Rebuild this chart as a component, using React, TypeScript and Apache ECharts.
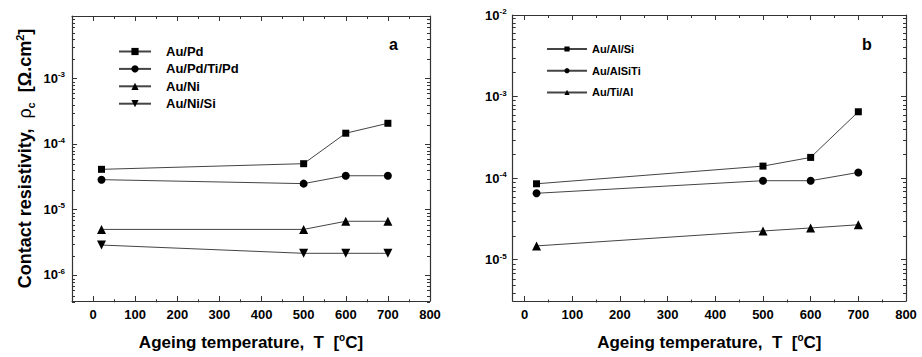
import React, { useEffect, useRef } from 'react';
import * as echarts from 'echarts';

const FONT = '"Liberation Sans", Arial, sans-serif';

// ---- data ----
const leftTemps = [20, 500, 600, 700];
const auPd = [4.1e-5, 5.0e-5, 1.46e-4, 2.07e-4];
const auPdTiPd = [2.85e-5, 2.48e-5, 3.27e-5, 3.27e-5];
const auNi = [4.96e-6, 4.96e-6, 6.6e-6, 6.6e-6];
const auNiSi = [2.86e-6, 2.14e-6, 2.14e-6, 2.14e-6];

const rightTemps = [25, 500, 600, 700];
const auAlSi = [8.5e-5, 1.4e-4, 1.79e-4, 6.5e-4];
const auAlSiTi = [6.5e-5, 9.27e-5, 9.27e-5, 1.17e-4];
const auTiAl = [1.47e-5, 2.24e-5, 2.44e-5, 2.67e-5];

const leftNames = ['Au/Pd', 'Au/Pd/Ti/Pd', 'Au/Ni', 'Au/Ni/Si'];
const rightNames = ['Au/Al/Si', 'Au/AlSiTi', 'Au/Ti/Al'];

// ---- ticks ----
const xMajorTicks = [0, 100, 200, 300, 400, 500, 600, 700, 800];
const xMinorTicks = [50, 150, 250, 350, 450, 550, 650, 750];
const leftDecades = [1e-6, 1e-5, 1e-4, 1e-3];
const rightDecades = [1e-5, 1e-4, 1e-3, 1e-2];
const minorMultipliers = [2, 3, 4, 5, 6, 7, 8, 9];
const leftMinorExponents = [-7, -6, -5, -4, -3];
const rightMinorExponents = [-6, -5, -4, -3];

const leftRange = { xmin: -50, xmax: 800, ymin: 4e-7, ymax: 9e-3 };
const rightRange = { xmin: -25, xmax: 800, ymin: 3.1e-6, ymax: 1.00001e-2 };

const minorValues = (exps: number[], lo: number, hi: number) => {
  const out: number[] = [];
  exps.forEach((e) => minorMultipliers.forEach((m) => {
    const v = m * Math.pow(10, e);
    if (v >= lo && v <= hi) out.push(v);
  }));
  return out;
};

const AX = '#333';

const yLabelFmt = (v: number) => {
  const e = Math.round(Math.log10(v));
  return `{b|10}{s|${e}}`;
};

const yRich = {
  b: { fontSize: 13, fontWeight: 'bold', fontFamily: FONT, color: '#000', lineHeight: 15 },
  s: { fontSize: 8, fontWeight: 'bold', fontFamily: FONT, color: '#000', verticalAlign: 'top', lineHeight: 15 },
};

function buildAxes(gridBase: number, range: any, decades: number[], minorY: number[], yLabelMargin: number) {
  const xAxes: any[] = [];
  const yAxes: any[] = [];
  const mk = (gi: number, major: boolean) => {
    const tickLen = major ? 5 : 3;
    const xt = major ? xMajorTicks : xMinorTicks;
    const yt = major ? decades : minorY;
    xAxes.push({
      type: 'value', gridIndex: gi, position: 'bottom', min: range.xmin, max: range.xmax,
      axisLine: { show: major, onZero: false, lineStyle: { color: AX, width: 1.2 } },
      axisTick: { show: true, inside: true, length: tickLen, customValues: xt, lineStyle: { color: AX, width: 1 } },
      axisLabel: major ? {
        show: true, customValues: xMajorTicks, margin: 7, fontSize: 13, fontWeight: 'bold', fontFamily: FONT, color: '#000',
      } : { show: false },
      splitLine: { show: false },
      name: major ? 'Ageing temperature,  T  [{sup|o}C]' : '',
      nameLocation: 'middle', nameGap: 31,
      nameTextStyle: {
        fontSize: 17, fontWeight: 'bold', fontFamily: FONT, color: '#000', lineHeight: 20,
        rich: { sup: { fontSize: 10, fontWeight: 'bold', fontFamily: FONT, color: '#000', verticalAlign: 'top', lineHeight: 20 } },
      },
    });
    xAxes.push({
      type: 'value', gridIndex: gi, position: 'top', min: range.xmin, max: range.xmax,
      axisLine: { show: major, onZero: false, lineStyle: { color: AX, width: 1.2 } },
      axisTick: { show: true, inside: true, length: tickLen, customValues: xt, lineStyle: { color: AX, width: 1 } },
      axisLabel: { show: false },
      splitLine: { show: false },
    });
    yAxes.push({
      type: 'log', logBase: 10, gridIndex: gi, position: 'left', min: range.ymin, max: range.ymax,
      axisLine: { show: major, onZero: false, lineStyle: { color: AX, width: 1.2 } },
      axisTick: { show: true, inside: true, length: tickLen, customValues: yt, lineStyle: { color: AX, width: 1 } },
      axisLabel: major ? { show: true, customValues: decades, margin: yLabelMargin, formatter: yLabelFmt, rich: yRich } : { show: false },
      splitLine: { show: false },
    });
    yAxes.push({
      type: 'log', logBase: 10, gridIndex: gi, position: 'right', min: range.ymin, max: range.ymax,
      axisLine: { show: major, onZero: false, lineStyle: { color: AX, width: 1.2 } },
      axisTick: { show: true, inside: true, length: tickLen, customValues: yt, lineStyle: { color: AX, width: 1 } },
      axisLabel: { show: false },
      splitLine: { show: false },
    });
  };
  mk(gridBase, true);
  mk(gridBase + 1, false);
  return { xAxes, yAxes };
}

const lineSeries = (name: string, xs: number[], ys: number[], axisIdx: number, symbol: string, rotate: number, size: number) => ({
  type: 'line', name, xAxisIndex: axisIdx, yAxisIndex: axisIdx,
  data: xs.map((x, i) => [x, ys[i]]),
  symbol, symbolRotate: rotate, symbolSize: size, showSymbol: true,
  lineStyle: { color: '#444', width: 1 },
  itemStyle: { color: '#000' },
  z: 5,
});

export default function App() {
  const ref = useRef<HTMLDivElement>(null);
  useEffect(() => {
    if (!ref.current) return;
    const chart = echarts.init(ref.current, undefined, { renderer: 'svg' });
    const leftGrid = { left: 72, top: 16, width: 358, height: 286.3 };
    const rightGrid = { left: 512.7, top: 15, width: 393.3, height: 287.5 };
    const L = buildAxes(0, leftRange, leftDecades, minorValues(leftMinorExponents, leftRange.ymin, leftRange.ymax), 7);
    const R = buildAxes(2, rightRange, rightDecades, minorValues(rightMinorExponents, rightRange.ymin, rightRange.ymax), 6);
    const option: any = {
      animation: false,
      backgroundColor: '#fff',
      textStyle: { fontFamily: FONT },
      grid: [
        { ...leftGrid, containLabel: false },
        { ...leftGrid, containLabel: false },
        { ...rightGrid, containLabel: false },
        { ...rightGrid, containLabel: false },
      ],
      xAxis: [...L.xAxes, ...R.xAxes],
      yAxis: [
        { ...L.yAxes[0], name: 'Contact resistivity,  {r|ρ}{sub|c}  [Ω.cm{sup|2}]', nameLocation: 'middle', nameGap: 36, nameRotate: 90,
          nameTextStyle: {
            fontSize: 18, fontWeight: 'bold', fontFamily: FONT, color: '#000', lineHeight: 22,
            rich: {
              r: { fontSize: 18, fontWeight: 'normal', fontFamily: FONT, color: '#000', lineHeight: 22 },
              sub: { fontSize: 11, fontWeight: 'bold', fontFamily: FONT, color: '#000', verticalAlign: 'bottom', lineHeight: 22 },
              sup: { fontSize: 11, fontWeight: 'bold', fontFamily: FONT, color: '#000', verticalAlign: 'top', lineHeight: 22 },
            },
          } },
        ...L.yAxes.slice(1),
        ...R.yAxes,
      ],
      legend: [
        {
          data: leftNames, orient: 'vertical', left: 113, top: 39.5, itemWidth: 32, itemHeight: 9, itemGap: 3.4,
          textStyle: { fontSize: 13, fontWeight: 'bold', fontFamily: FONT, color: '#000', lineHeight: 14, padding: [0, 0, 0, 10] },
          selectedMode: false,
        },
        {
          data: rightNames, orient: 'vertical', left: 541, top: 37.5, itemWidth: 40, itemHeight: 6.5, itemGap: 8.7,
          textStyle: { fontSize: 11, fontWeight: 'bold', fontFamily: FONT, color: '#000', lineHeight: 13 },
          selectedMode: false,
        },
      ],
      series: [
        lineSeries(leftNames[0], leftTemps, auPd, 0, 'rect', 0, 7),
        lineSeries(leftNames[1], leftTemps, auPdTiPd, 0, 'circle', 0, 8),
        lineSeries(leftNames[2], leftTemps, auNi, 0, 'triangle', 0, 9),
        lineSeries(leftNames[3], leftTemps, auNiSi, 0, 'triangle', 180, 9),
        lineSeries(rightNames[0], rightTemps, auAlSi, 4, 'rect', 0, 7),
        lineSeries(rightNames[1], rightTemps, auAlSiTi, 4, 'circle', 0, 8),
        lineSeries(rightNames[2], rightTemps, auTiAl, 4, 'triangle', 0, 9),
      ],
      graphic: [
        { type: 'text', left: 389, top: 36, style: { text: 'a', fontSize: 16, fontWeight: 'bold', fontFamily: FONT, fill: '#000' } },
        { type: 'text', left: 862, top: 36, style: { text: 'b', fontSize: 16, fontWeight: 'bold', fontFamily: FONT, fill: '#000' } },
      ],
    };
    chart.setOption(option);
    return () => chart.dispose();
  }, []);
  return <div ref={ref} style={{ position: 'absolute', left: 0, top: 0, width: 922, height: 357 }} />;
}
